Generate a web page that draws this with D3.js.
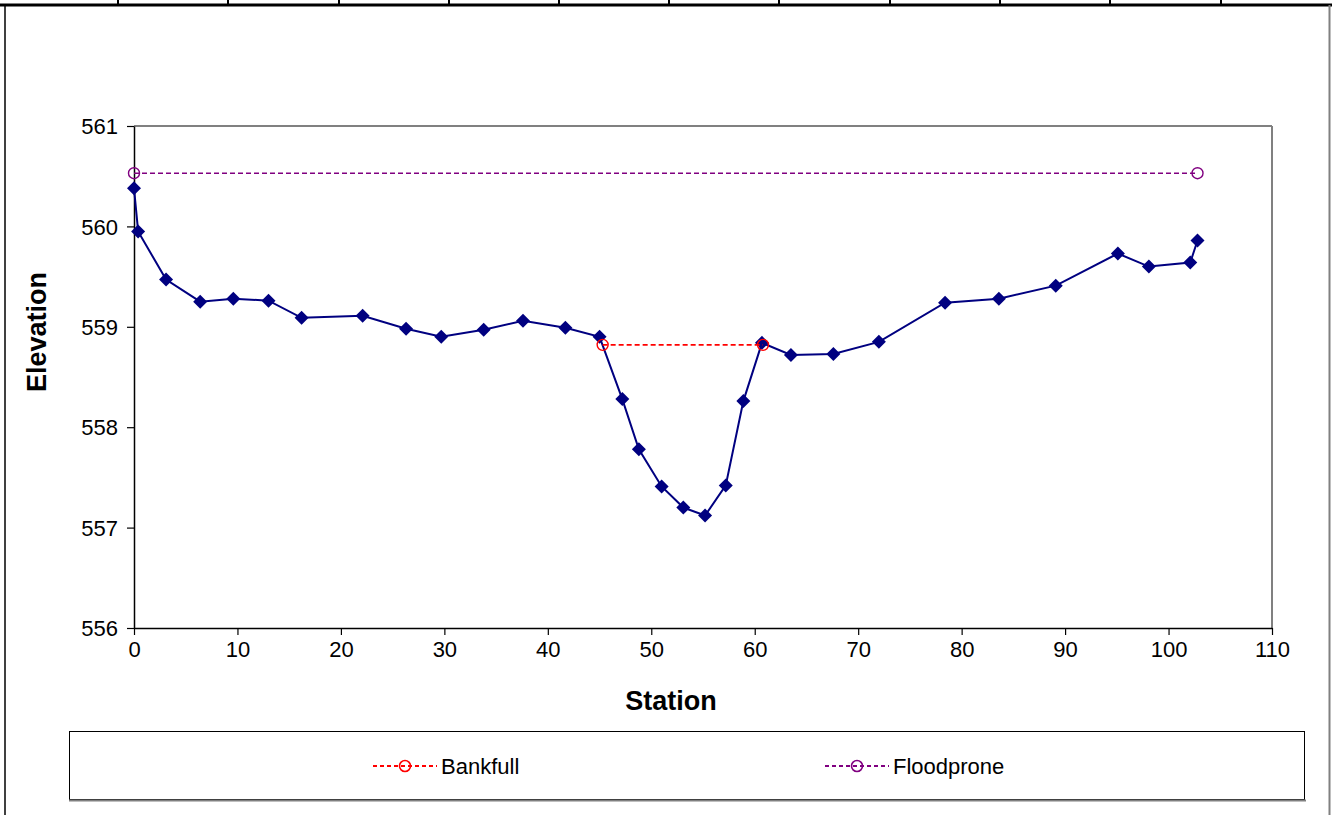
<!DOCTYPE html>
<html><head><meta charset="utf-8">
<script src="https://cdn.jsdelivr.net/npm/d3@7"></script>
<style>body{margin:0;background:#fff}svg{display:block;font-family:"Liberation Sans",Arial,sans-serif}</style>
</head><body>
<script>
const station = [0,0.4,3.1,6.4,9.6,13.0,16.2,22.1,26.3,29.7,33.8,37.6,41.7,45.0,47.2,48.8,51.0,53.1,55.2,57.2,58.9,60.7,63.5,67.6,72.0,78.4,83.6,89.1,95.1,98.1,102.1,102.8];
const elevation = [560.38,559.95,559.47,559.25,559.28,559.26,559.09,559.11,558.98,558.90,558.97,559.06,558.99,558.90,558.28,557.78,557.41,557.20,557.12,557.42,558.26,558.84,558.72,558.73,558.85,559.24,559.28,559.41,559.73,559.60,559.64,559.86];
const bankfullStation = [45.3,60.8];
const bankfullElev = [558.82,558.82];
const floodStation = [0,102.8];
const floodElev = [560.53,560.53];
const xTicks = [0,10,20,30,40,50,60,70,80,90,100,110];
const yTicks = [556,557,558,559,560,561];
const borderTicks = [118,228,339,449,559,669,779,890,1000,1110,1221];

const W=1332,H=815;
const svg=d3.select("body").append("svg").attr("width",W).attr("height",H);
const x=d3.scaleLinear().domain([0,110]).range([134,1272]);
const y=d3.scaleLinear().domain([556,561]).range([628,126]);

// outer frame
svg.append("line").attr("x1",0).attr("x2",W).attr("y1",5).attr("y2",5).attr("stroke","#000").attr("stroke-width",3);
svg.selectAll(".bt").data(borderTicks).enter().append("line").attr("x1",d=>d).attr("x2",d=>d).attr("y1",0).attr("y2",5).attr("stroke","#000").attr("stroke-width",2);
svg.append("line").attr("x1",5).attr("x2",5).attr("y1",5).attr("y2",H).attr("stroke","#000").attr("stroke-width",1.5);
svg.append("line").attr("x1",1329.5).attr("x2",1329.5).attr("y1",5).attr("y2",H).attr("stroke","#808080").attr("stroke-width",2);

// plot area frame
svg.append("line").attr("x1",134).attr("x2",1272).attr("y1",126).attr("y2",126).attr("stroke","#808080").attr("stroke-width",2);
svg.append("line").attr("x1",1272).attr("x2",1272).attr("y1",126).attr("y2",628).attr("stroke","#808080").attr("stroke-width",2);

// axes
const gx=svg.append("g").attr("transform","translate(0,628)").call(d3.axisBottom(x).tickValues(xTicks).tickFormat(d3.format("d")).tickSize(7).tickSizeOuter(0));
gx.attr("font-size",null).attr("font-family",null);
gx.select(".domain").attr("stroke","#000").attr("stroke-width",1.5);
gx.selectAll(".tick line").attr("stroke","#000").attr("stroke-width",1.2);
gx.selectAll(".tick text").attr("font-size",22).style("font-size","22px").attr("fill","#000").attr("y",12).attr("dy","0.75em");
const gy=svg.append("g").attr("transform","translate(134,0)").call(d3.axisLeft(y).tickValues(yTicks).tickFormat(d3.format("d")).tickSize(7).tickSizeOuter(0));
gy.attr("font-size",null).attr("font-family",null);
gy.select(".domain").attr("stroke","#000").attr("stroke-width",1.5);
gy.selectAll(".tick line").attr("stroke","#000").attr("stroke-width",1.2);
gy.selectAll(".tick text").attr("font-size",22).style("font-size","22px").attr("fill","#000").attr("x",-16).attr("dy","0.35em");

svg.append("text").attr("x",671).attr("y",710).attr("text-anchor","middle").style("font-size","27px").attr("font-weight","bold").text("Station");
svg.append("text").attr("transform","translate(46,332) rotate(-90)").attr("text-anchor","middle").style("font-size","27px").attr("font-weight","bold").text("Elevation");

// profile
const pts=station.map((s,i)=>[s,elevation[i]]);
const line=d3.line().x(d=>x(d[0])).y(d=>y(d[1]));
svg.append("path").datum(pts).attr("d",line).attr("fill","none").attr("stroke","#000080").attr("stroke-width",2);
svg.selectAll(".dm").data(pts).enter().append("path")
  .attr("d","M0,-7L7,0L0,7L-7,0Z")
  .attr("transform",d=>`translate(${x(d[0])},${y(d[1])})`)
  .attr("fill","#000080");

function dashed(st,el,color){
  const p=st.map((s,i)=>[s,el[i]]);
  svg.append("path").datum(p).attr("d",line).attr("fill","none").attr("stroke",color).attr("stroke-width",1.6).attr("stroke-dasharray","5,3");
  svg.selectAll(null).data(p).enter().append("circle").attr("cx",d=>x(d[0])).attr("cy",d=>y(d[1])).attr("r",5.5).attr("fill","none").attr("stroke",color).attr("stroke-width",1.4);
}
dashed(floodStation,floodElev,"#800080");
dashed(bankfullStation,bankfullElev,"#ff0000");

// legend
svg.append("rect").attr("x",69.5).attr("y",731.5).attr("width",1235).attr("height",68).attr("fill","#fff").attr("stroke","#000").attr("stroke-width",1);
svg.append("line").attr("x1",69).attr("x2",1306).attr("y1",800.5).attr("y2",800.5).attr("stroke","#808080").attr("stroke-width",2);
const leg=[{name:"Bankfull",color:"#ff0000",x0:373},{name:"Floodprone",color:"#800080",x0:825}];
leg.forEach(l=>{
  svg.append("line").attr("x1",l.x0).attr("x2",l.x0+64).attr("y1",766).attr("y2",766).attr("stroke",l.color).attr("stroke-width",2).attr("stroke-dasharray","4,3");
  svg.append("circle").attr("cx",l.x0+32).attr("cy",766).attr("r",5.5).attr("fill","none").attr("stroke",l.color).attr("stroke-width",1.6);
  svg.append("text").attr("x",l.x0+68).attr("y",774).style("font-size","22px").attr("fill","#000").text(l.name);
});
</script>
</body></html>
